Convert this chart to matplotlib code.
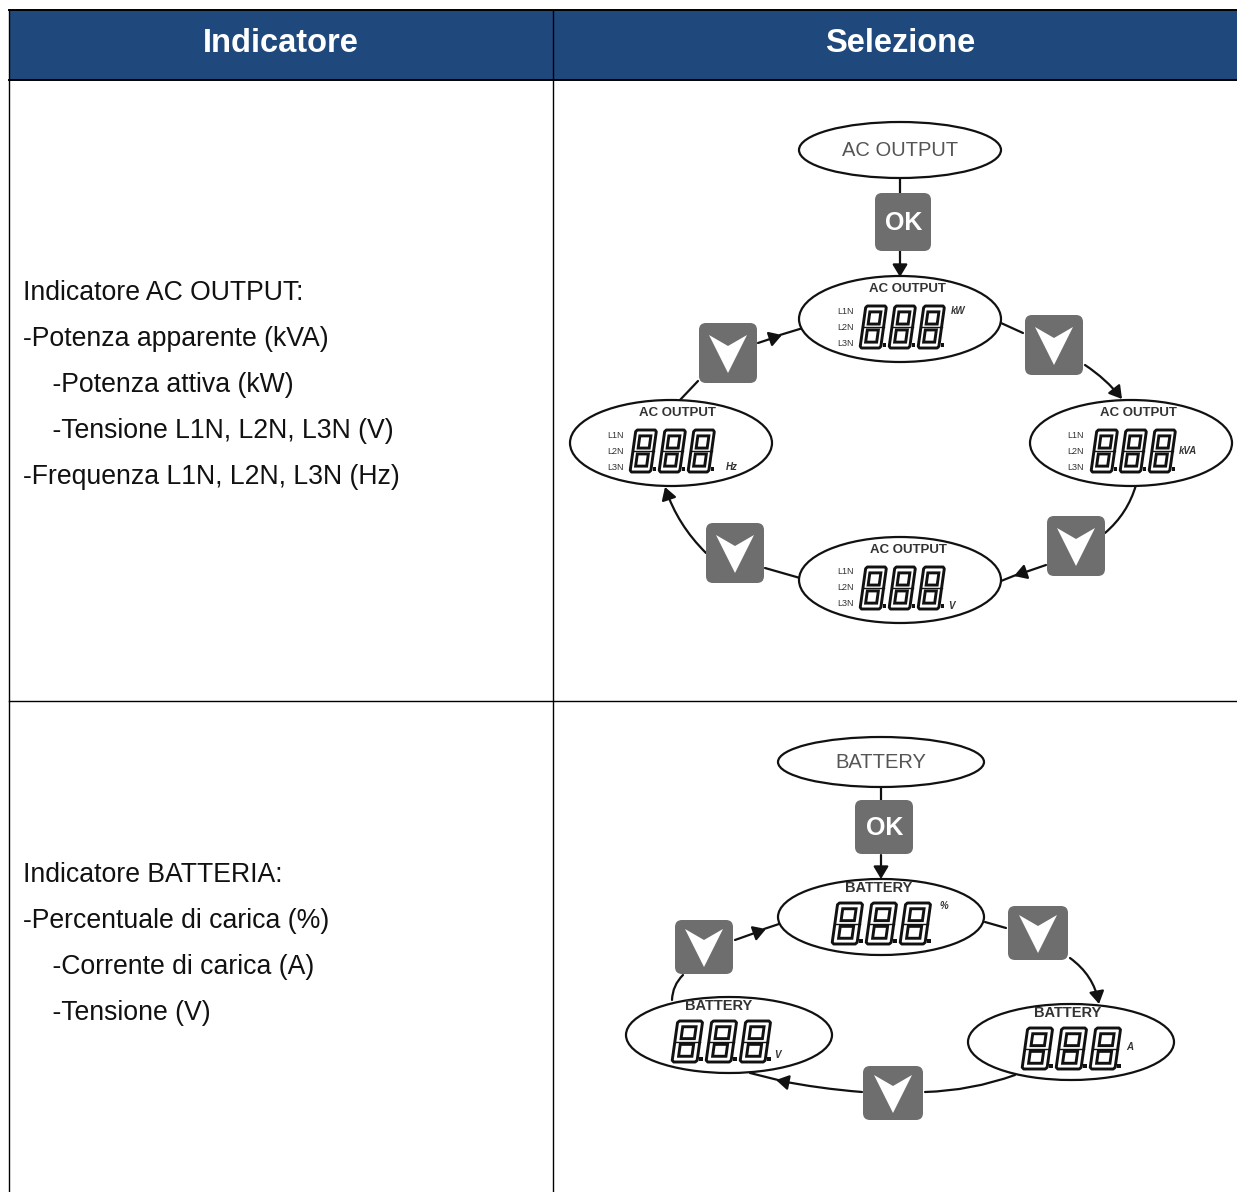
import matplotlib
matplotlib.use('Agg')
import matplotlib.pyplot as plt
from matplotlib.patches import Ellipse, FancyBboxPatch, FancyArrowPatch, Polygon, Rectangle

plt.rcParams['font.family'] = ['Liberation Sans', 'DejaVu Sans']

# table text
headers = ['Indicatore', 'Selezione']
row1_lines = ['Indicatore AC OUTPUT:', '-Potenza apparente (kVA)', '    -Potenza attiva (kW)',
              '    -Tensione L1N, L2N, L3N (V)', '-Frequenza L1N, L2N, L3N (Hz)']
row2_lines = ['Indicatore BATTERIA:', '-Percentuale di carica (%)', '    -Corrente di carica (A)',
              '    -Tensione (V)']
row1_y = [293, 339, 385, 431, 477]
row2_y = [875, 921, 967, 1013]

# top ovals: label, cx, cy, w, h
start_ovals = [('AC OUTPUT', 900, 150, 202, 56), ('BATTERY', 881, 762, 206, 50)]

# displays: title, title x, unit, unit x, unit y, cx, cy, w, h, digits x
ac_displays = [('AC OUTPUT', 907, 'kW', 951, 311, 900, 319, 202, 86, 860),
               ('AC OUTPUT', 1138, 'kVA', 1179, 451, 1131, 443, 202, 86, 1091),
               ('AC OUTPUT', 908, 'V', 948, 606, 900, 580, 202, 86, 860),
               ('AC OUTPUT', 677, 'Hz', 726, 467, 671, 443, 202, 86, 630)]
bat_displays = [('BATTERY', 879, '%', 939, 906, 881, 917, 206, 76, 832),
                ('BATTERY', 1068, 'A', 1126, 1047, 1071, 1042, 206, 76, 1022),
                ('BATTERY', 719, 'V', 774, 1055, 729, 1035, 206, 76, 672)]

# buttons: cx, cy, w, h
ok_buttons = [(903, 222, 56, 58), (884, 827, 58, 54)]
down_buttons = [(1054, 345, 58, 60), (728, 353, 58, 60), (1076, 546, 58, 60), (735, 553, 58, 60),
                (1038, 933, 60, 54), (704, 947, 58, 54), (893, 1093, 60, 54)]

# connectors: start, end, curvature, arrow
links = [((900, 178), (900, 194), 0, False), ((900, 251), (900, 277), 0, True),
         ((1001, 323), (1023, 333), 0, False), ((1085, 365), (1122, 399), -0.08, True),
         ((1136, 485), (1105, 533), -0.15, False), ((1046, 565), (1014, 576), 0, True),
         ((1016, 575), (1001, 581), 0, False),
         ((800, 578), (765, 568), 0, False), ((706, 553), (665, 487), -0.12, True),
         ((680, 400), (698, 381), 0, False), ((758, 343), (782, 335), 0, True),
         ((780, 335), (803, 328), 0, False),
         ((881, 788), (881, 802), 0, False), ((881, 855), (881, 879), 0, True),
         ((985, 922), (1006, 928), 0, False), ((1070, 958), (1099, 1004), -0.2, True),
         ((1015, 1075), (925, 1092), -0.08, False), ((862, 1092), (776, 1080), -0.03, True),
         ((778, 1080), (750, 1073), 0, False),
         ((672, 1000), (683, 975), -0.2, False), ((735, 940), (766, 929), 0, True),
         ((764, 929), (779, 924), 0, False)]

HEAD = '#1f497d'
GREY = '#6e6e6e'
INK = '#111111'

fig = plt.figure(figsize=(12.37, 11.92), dpi=100)
ax = fig.add_axes([0, 0, 1, 1])
ax.set_xlim(0, 1237)
ax.set_ylim(1192, 0)
ax.axis('off')

# table
ax.add_patch(Rectangle((9, 10), 1228, 70, fc=HEAD, ec='none'))
ax.plot([9, 1237], [10, 10], color='black', lw=1.4)
ax.plot([9, 1237], [80, 80], color='black', lw=1.4)
ax.plot([9, 1237], [701, 701], color='black', lw=1.0)
ax.plot([9, 9], [10, 1192], color='black', lw=1.0)
ax.plot([553, 553], [10, 1192], color='black', lw=1.0)
ax.text(281, 43, headers[0], color='white', fontsize=23.5, fontweight='bold', ha='center', va='center')
ax.text(900, 43, headers[1], color='white', fontsize=23.5, fontweight='bold', ha='center', va='center')
for t, y in zip(row1_lines + row2_lines, row1_y + row2_y):
    ax.text(23, y, t, color='#111111', fontsize=19.15, ha='left', va='center')


def eight(x, y, w, h):
    # outlined seven segment 8 with a slant
    sk = 0.14 * h
    def pt(px, py):
        return (x + px * w + sk * (1 - py), y + py * h)
    outer = [pt(0.06, 0), pt(0.8, 0), pt(0.86, 0.04), pt(0.86, 0.96), pt(0.8, 1), pt(0.06, 1), pt(0, 0.96), pt(0, 0.04)]
    ax.add_patch(Polygon(outer, fc='white', ec=INK, lw=2.1, joinstyle='round', zorder=4))
    for y0, y1 in [(0.14, 0.43), (0.57, 0.86)]:
        hole = [pt(0.2, y0), pt(0.66, y0), pt(0.66, y1), pt(0.2, y1)]
        ax.add_patch(Polygon(hole, fc='white', ec=INK, lw=2.1, zorder=5))
    ax.plot([x + sk * 0.5, x + 0.86 * w + sk * 0.5], [y + h / 2, y + h / 2], color=INK, lw=1.0, zorder=5)
    ax.add_patch(Rectangle((x + w * 0.94, y + h * 0.88), 3.5, 4, fc=INK, ec='none', zorder=5))


def display(title, tx, unit, ux, uy, cx, cy, w, h, dx, phases):
    ax.add_patch(Ellipse((cx, cy), w, h, fc='white', ec=INK, lw=1.6, zorder=3))
    if phases:
        ax.text(tx, cy - 30, title, fontsize=9.5, fontweight='bold', color='#333333', ha='center', va='center', zorder=6)
        for lab, off in zip(['L1N', 'L2N', 'L3N'], [-8, 8, 24]):
            ax.text(cx - 55, cy + off, lab, fontsize=6.5, color='#333333', ha='center', va='center', zorder=6)
        dy, dw, dh, step = -13, 24, 42, 29
    else:
        ax.text(tx, cy - 29, title, fontsize=10.5, fontweight='bold', color='#333333', ha='center', va='center', zorder=6)
        dy, dw, dh, step = -14, 29, 41, 34
    for i in range(3):
        eight(dx + i * step, cy + dy, dw, dh)
    ax.text(ux, uy, unit, fontsize=7, fontstyle='italic', fontweight='bold', color='#333333', ha='left', va='center', zorder=6)


for a, b, rad, arrow in links:
    style = '-|>,head_length=5,head_width=3' if arrow else '-'
    ax.add_patch(FancyArrowPatch(a, b, connectionstyle=f'arc3,rad={rad}', arrowstyle=style, mutation_scale=1.5,
                                 color=INK, lw=1.6, shrinkA=0, shrinkB=0, zorder=2))

for label, cx, cy, w, h in start_ovals:
    ax.add_patch(Ellipse((cx, cy), w, h, fc='white', ec=INK, lw=1.6, zorder=3))
    ax.text(cx, cy + 1, label, fontsize=14.5, color='#555555', ha='center', va='center', zorder=4)

for d in ac_displays:
    display(*d, True)
for d in bat_displays:
    display(*d, False)

for cx, cy, w, h in ok_buttons:
    ax.add_patch(FancyBboxPatch((cx - w / 2 + 6, cy - h / 2 + 6), w - 12, h - 12, boxstyle='round,pad=6,rounding_size=7',
                                fc=GREY, ec='none', zorder=3))
    ax.text(cx + 1, cy + 1, 'OK', color='white', fontsize=18, fontweight='bold', ha='center', va='center', zorder=4)

for cx, cy, w, h in down_buttons:
    ax.add_patch(FancyBboxPatch((cx - w / 2 + 6, cy - h / 2 + 6), w - 12, h - 12, boxstyle='round,pad=6,rounding_size=7',
                                fc=GREY, ec='none', zorder=3))
    ax.add_patch(Polygon([(cx - 19, cy - 18), (cx, cy - 7), (cx + 19, cy - 18), (cx, cy + 20)],
                         fc='white', ec='none', zorder=4))

fig.savefig('out.png', dpi=100)
